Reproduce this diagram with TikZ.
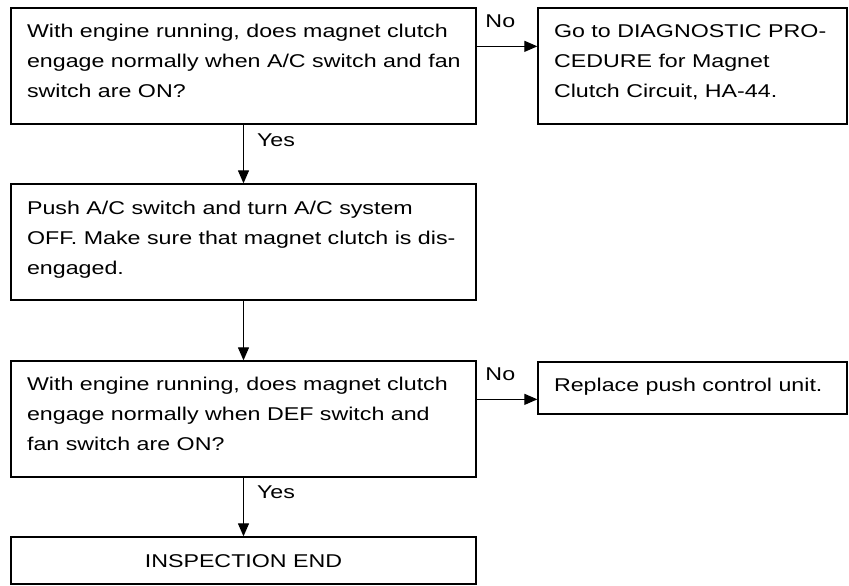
\documentclass[tikz,border=0pt]{standalone}
\usepackage{fontspec}
\setmainfont{Liberation Sans}[FakeStretch=1.255]
\usetikzlibrary{arrows.meta}
\begin{document}
\begin{tikzpicture}[x=1pt,y=-1pt,
  box/.style={draw=black, line width=1.3pt, rectangle, inner sep=0pt},
  txt/.style={inner sep=0pt, align=left, anchor=base west, font=\fontsize{18.5}{30}\selectfont},
  lbl/.style={font=\fontsize{18.5}{30}\selectfont, inner sep=0pt},
  arr/.style={line width=1.2pt, -{Triangle[length=13pt,width=11pt]}}]
\useasboundingbox (0,0) rectangle (849,586);
\node[box, minimum width=465pt, minimum height=116pt] (b1) at (243.5,66) {};
\node[box, minimum width=309pt, minimum height=116pt] (b2) at (692.5,66) {};
\node[box, minimum width=465pt, minimum height=116pt] (b3) at (243.5,242) {};
\node[box, minimum width=465pt, minimum height=116pt] (b4) at (243.5,419) {};
\node[box, minimum width=309pt, minimum height=52pt] (b5) at (692.5,388) {};
\node[box, minimum width=465pt, minimum height=47pt] (b6) at (243.5,560.5) {};
% base anchor of a multi-line node is on its last line: 31pt + 2 x 30pt
\node[txt] (t1) at ([xshift=16.5pt,yshift=-90pt]b1.north west)
  {With engine running, does magnet clutch\\engage normally when A/C switch and fan\\switch are ON?};
\node[txt] (t2) at ([xshift=16.5pt,yshift=-90pt]b2.north west)
  {Go to DIAGNOSTIC PRO-\\CEDURE for Magnet\\Clutch Circuit, HA-44.};
\node[txt] (t3) at ([xshift=16.5pt,yshift=-91pt]b3.north west)
  {Push A/C switch and turn A/C system\\OFF. Make sure that magnet clutch is dis-\\engaged.};
\node[txt] (t4) at ([xshift=16.5pt,yshift=-90pt]b4.north west)
  {With engine running, does magnet clutch\\engage normally when DEF switch and\\fan switch are ON?};
\node[txt] (t5) at ([xshift=16.5pt,yshift=-30pt]b5.north west)
  {Replace push control unit.};
\node[txt, anchor=base] (t6) at ([yshift=-31pt]b6.north)
  {INSPECTION END};
\coordinate (n1) at ([yshift=-39pt]b1.north east);
\coordinate (n2) at ([yshift=-39pt]b4.north east);
\draw[arr] (n1) -- node[lbl, pos=0.39, yshift=25pt]{No} (n1 -| b2.west);
\draw[arr] (n2) -- node[lbl, pos=0.39, yshift=25pt]{No} (n2 -| b5.west);
\draw[arr] (b1.south) -- node[lbl, pos=0.27, anchor=west, xshift=13pt]{Yes} (b3.north);
\draw[arr] (b3.south) -- (b4.north);
\draw[arr] (b4.south) -- node[lbl, pos=0.25, anchor=west, xshift=13pt]{Yes} (b6.north);
\end{tikzpicture}
\end{document}
